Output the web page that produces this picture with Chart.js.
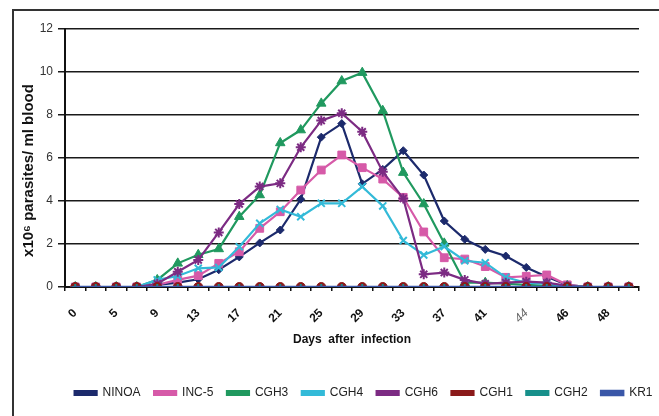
<!DOCTYPE html>
<html>
<head>
<meta charset="utf-8">
<title>Parasitemia</title>
<script src="https://cdn.jsdelivr.net/npm/chart.js@4.4.0/dist/chart.umd.min.js"></script>
<style>
  html, body { margin: 0; padding: 0; background: #fff; }
  canvas { display: block; }
</style>
</head>
<body>
<canvas id="chartjs_parasitemia" width="659" height="416"></canvas>
<script>
// days after infection (only every other one gets a label on the axis)
const days = ['0', '3', '5', '7', '9', '11', '13', '15', '17', '19', '21', '23', '25', '27',
              '29', '31', '33', '35', '37', '39', '41', '43', '44', '45', '46', '47', '48', '49'];
const yTicks = [0, 2, 4, 6, 8, 10, 12];

// x10^6 parasites / ml blood
const ninoa = [0, 0, 0, 0, 0.1, 0.2, 0.36, 0.8, 1.4, 2.05, 2.65, 4.08, 6.97, 7.6,
               4.8, 5.47, 6.34, 5.21, 3.07, 2.22, 1.75, 1.44, 0.91, 0.48, 0.1, 0, 0, 0];
const inc5 = [0, 0, 0, 0, 0.1, 0.33, 0.53, 1.1, 1.64, 2.73, 3.5, 4.51, 5.44, 6.14,
              5.55, 5.02, 4.17, 2.56, 1.36, 1.3, 0.95, 0.45, 0.5, 0.56, 0.1, 0, 0, 0];
const cgh3 = [0, 0, 0, 0, 0.33, 1.1, 1.5, 1.77, 3.27, 4.28, 6.7, 7.3, 8.54, 9.58,
              9.97, 8.2, 5.32, 3.86, 2.03, 0.2, 0.2, 0.15, 0.1, 0.05, 0.05, 0, 0, 0];
const cgh4 = [0, 0, 0, 0, 0.33, 0.51, 0.87, 0.91, 1.87, 2.96, 3.61, 3.27, 3.89, 3.89,
              4.67, 3.77, 2.16, 1.49, 1.88, 1.22, 1.13, 0.45, 0.2, 0.15, 0.05, 0, 0, 0];
const cgh6 = [0, 0, 0, 0, 0.15, 0.71, 1.26, 2.54, 3.86, 4.67, 4.82, 6.5, 7.74, 8.08,
              7.22, 5.36, 4.12, 0.59, 0.67, 0.33, 0.15, 0.2, 0.25, 0.2, 0.05, 0, 0, 0];
const cgh1 = [0, 0, 0, 0, 0, 0, 0, 0, 0, 0, 0, 0, 0, 0,
              0, 0, 0, 0, 0, 0, 0, 0, 0, 0, 0, 0, 0, 0];
const cgh2 = [0, 0, 0, 0, 0, 0, 0, 0, 0, 0, 0, 0, 0, 0,
              0, 0, 0, 0, 0, 0, 0, 0, 0, 0, 0, 0, 0, 0];
const kr1 = [0, 0, 0, 0, 0, 0, 0, 0, 0, 0, 0, 0, 0, 0,
             0, 0, 0, 0, 0, 0, 0, 0, 0, 0, 0, 0, 0, 0];

const FONT = "'Liberation Sans', Arial, sans-serif";

function serie(label, data, color, style, radius, width, order) {
	return {
		label: label,
		data: data,
		borderColor: color,
		backgroundColor: color,
		borderWidth: width,
		pointStyle: style,
		pointRadius: radius,
		pointBackgroundColor: color,
		pointBorderColor: color,
		pointBorderWidth: (style === 'crossRot' || style === 'star' || style === 'cross') ? 2 : 1,
		tension: 0,
		order: order
	};
}

// outer frame of the chart object
const framePlugin = {
	id: 'frame',
	beforeDraw(chart) {
		const ctx = chart.ctx;
		ctx.save();
		ctx.strokeStyle = '#333';
		ctx.lineWidth = 2;
		ctx.beginPath();
		ctx.moveTo(13, 416);
		ctx.lineTo(13, 10);
		ctx.lineTo(659, 10);
		ctx.stroke();
		ctx.restore();
	}
};

document.addEventListener("DOMContentLoaded", function () {
	new Chart(document.getElementById("chartjs_parasitemia"), {
		type: 'line',
		data: {
			labels: days,
			datasets: [
				serie('NINOA', ninoa, '#1c2a6c', 'rectRot', 4, 2.2, 8),
				serie('INC-5', inc5, '#d65aa8', 'rect', 5.5, 2.2, 7),
				serie('CGH3', cgh3, '#20995f', 'triangle', 5.5, 2.2, 6),
				serie('CGH4', cgh4, '#33bad8', 'crossRot', 5, 2.2, 5),
				serie('CGH6', cgh6, '#7c2b83', 'star', 5, 2.2, 4),
				serie('CGH1', cgh1, '#8b1a1a', 'circle', 4.5, 2.2, 3),
				serie('CGH2', cgh2, '#17908b', 'cross', 3, 2.2, 2),
				serie('KR1', kr1, '#3a57a8', 'line', 5, 2.5, 1)
			]
		},
		options: {
			responsive: false,
			animation: false,
			layout: {
				padding: { left: 20, right: -7, top: 29, bottom: 7 }
			},
			plugins: {
				legend: {
					position: 'bottom',
					align: 'end',
					labels: {
						font: { family: FONT, size: 12 },
						color: '#222',
						boxWidth: 22,
						boxHeight: 4,
						padding: 13.5,
						sort: (a, b) => a.datasetIndex - b.datasetIndex
					}
				},
				tooltip: { enabled: false }
			},
			scales: {
				x: {
					offset: true,
					grid: {
						display: true,
						drawOnChartArea: false,
						offset: true,
						tickLength: 4,
						color: '#111',
						lineWidth: 1.5
					},
					border: { display: true, color: '#111', width: 2 },
					ticks: {
						autoSkip: false,
						minRotation: 45,
						maxRotation: 45,
						padding: 15,
						color: (c) => c.index === 22 ? '#666' : '#111',
						font: (c) => c.index === 22
							? { family: FONT, size: 12, style: 'italic', weight: 'normal' }
							: { family: FONT, size: 12, weight: 'bold' },
						callback: function (value, index) {
							return index % 2 === 0 ? days[index] : '';
						}
					},
					title: {
						display: true,
						text: 'Days  after  infection',
						color: '#111',
						font: { family: FONT, size: 12, weight: 'bold' },
						padding: { top: 0, bottom: 27 }
					},
					afterFit: (scale) => { scale.height = 86.5; }
				},
				y: {
					min: yTicks[0],
					max: yTicks[yTicks.length - 1],
					grid: {
						color: '#1a1a1a',
						lineWidth: 1.5,
						tickLength: 7
					},
					border: { display: true, color: '#111', width: 2 },
					ticks: {
						stepSize: 2,
						padding: 5,
						color: '#333',
						font: { family: FONT, size: 12 }
					},
					title: {
						display: true,
						text: 'x10\u2076 parasites/ ml blood      ',
						color: '#111',
						font: { family: FONT, size: 15, weight: 'bold' },
						padding: 0
					},
					afterFit: (scale) => { scale.width = 45; }
				},
				yRight: {
					position: 'right',
					display: true,
					grid: { display: false },
					border: { display: false },
					ticks: { display: false },
					afterFit: (scale) => { scale.width = 27; }
				}
			}
		},
		plugins: [framePlugin]
	});
});
</script>
</body>
</html>
